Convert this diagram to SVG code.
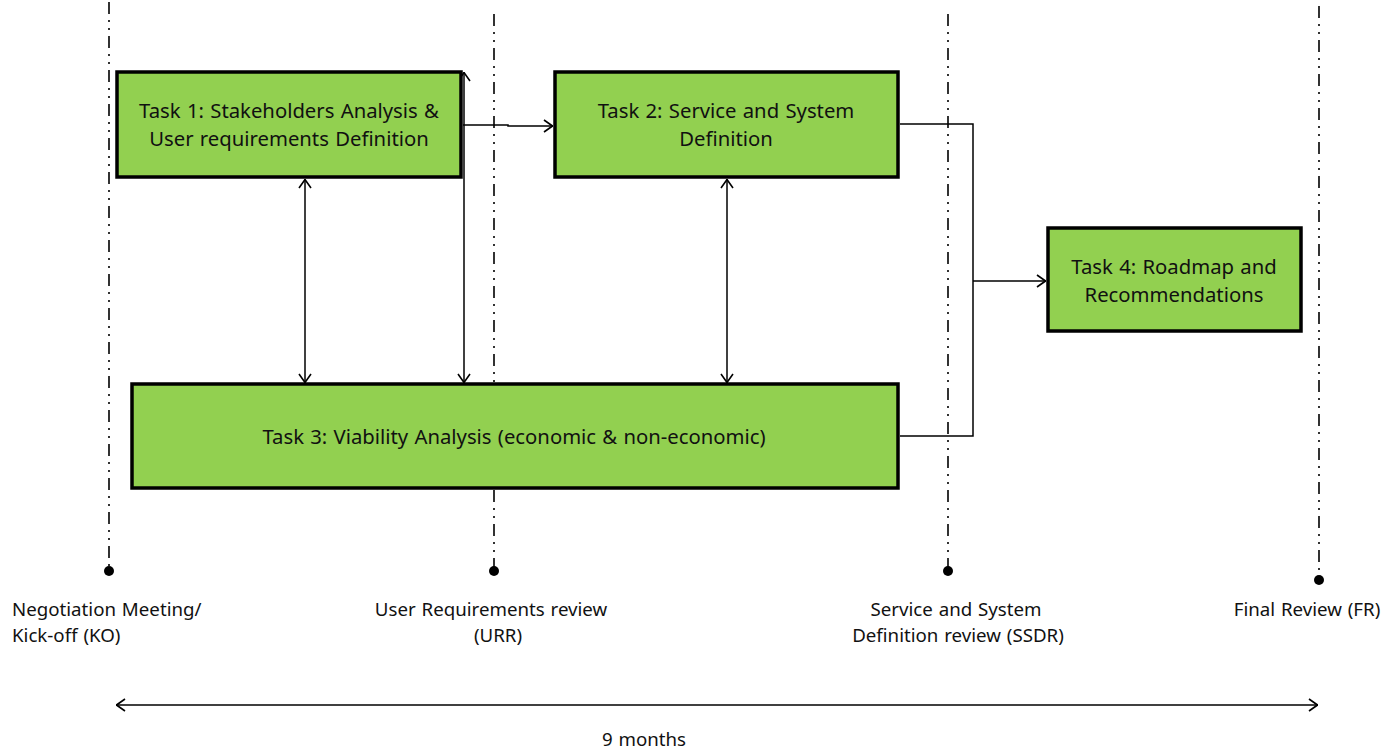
<svg xmlns="http://www.w3.org/2000/svg" width="1388" height="751" viewBox="0 0 1388 751">
<style>
.box{fill:#92D050;stroke:#000;stroke-width:3.5}
.t{font-family:"Noto Sans","Open Sans",sans-serif;font-size:20.3px;word-spacing:1px;fill:#111;text-anchor:middle}
.l{font-family:"Noto Sans","Open Sans",sans-serif;font-size:18.7px;word-spacing:1px;fill:#111}
.c{fill:none;stroke:#000;stroke-width:1.5}
.dd{fill:none;stroke:#000;stroke-width:1.6;stroke-dasharray:12 6 2 6 2 6}
</style>
<defs>
<marker id="ah" viewBox="0 0 10 14" refX="10" refY="7" markerWidth="10" markerHeight="14" markerUnits="userSpaceOnUse" orient="auto-start-reverse">
<path d="M1,1 L9.5,7 L1,13" fill="none" stroke="#000" stroke-width="1.6"/>
</marker>
</defs>
<g id="milestones">
<line class="dd" x1="109" y1="2" x2="109" y2="568"/>
<line class="dd" x1="494" y1="14" x2="494" y2="568"/>
<line class="dd" x1="948" y1="14" x2="948" y2="568"/>
<line class="dd" x1="1319" y1="6" x2="1319" y2="577"/>
<circle cx="109" cy="571" r="5"/>
<circle cx="494" cy="571" r="5"/>
<circle cx="948" cy="571" r="5"/>
<circle cx="1319" cy="580" r="5"/>
<text class="l" x="12" y="616">Negotiation Meeting/</text>
<text class="l" x="12" y="642">Kick-off (KO)</text>
<text class="l" x="491" y="616" text-anchor="middle">User Requirements review</text>
<text class="l" x="498" y="642" text-anchor="middle">(URR)</text>
<text class="l" x="956" y="616" text-anchor="middle">Service and System</text>
<text class="l" x="958" y="642" text-anchor="middle">Definition review (SSDR)</text>
<text class="l" x="1307" y="616" text-anchor="middle">Final Review (FR)</text>
<text class="l" x="644" y="746" text-anchor="middle">9 months</text>
</g>
<g id="connectors">
<line class="c" x1="305" y1="179" x2="305" y2="383" marker-start="url(#ah)" marker-end="url(#ah)"/>
<line class="c" x1="727" y1="179" x2="727" y2="383" marker-start="url(#ah)" marker-end="url(#ah)"/>
<line class="c" x1="464" y1="72" x2="464" y2="383" marker-start="url(#ah)" marker-end="url(#ah)"/>
<polyline class="c" points="463,125 508,125 508,126 553,126" marker-end="url(#ah)"/>
<polyline class="c" points="900,124 973,124 973,436 900,436"/>
<line class="c" x1="973" y1="281" x2="1046" y2="281" marker-end="url(#ah)"/>
<line class="c" x1="116" y1="705" x2="1318" y2="705" marker-start="url(#ah)" marker-end="url(#ah)"/>
</g>
<g id="task1">
<rect class="box" x="117" y="72" width="344" height="105"/>
<text class="t" x="289" y="118">Task 1: Stakeholders Analysis &amp;</text>
<text class="t" x="289" y="146">User requirements Definition</text>
</g>
<g id="task2">
<rect class="box" x="555" y="72" width="343" height="105"/>
<text class="t" x="726" y="118">Task 2: Service and System</text>
<text class="t" x="726" y="146">Definition</text>
</g>
<g id="task3">
<rect class="box" x="132" y="384" width="766" height="104"/>
<text class="t" x="514" y="444">Task 3: Viability Analysis (economic &amp; non-economic)</text>
</g>
<g id="task4">
<rect class="box" x="1048" y="228" width="253" height="103"/>
<text class="t" x="1174" y="274">Task 4: Roadmap and</text>
<text class="t" x="1174" y="302">Recommendations</text>
</g>
</svg>
